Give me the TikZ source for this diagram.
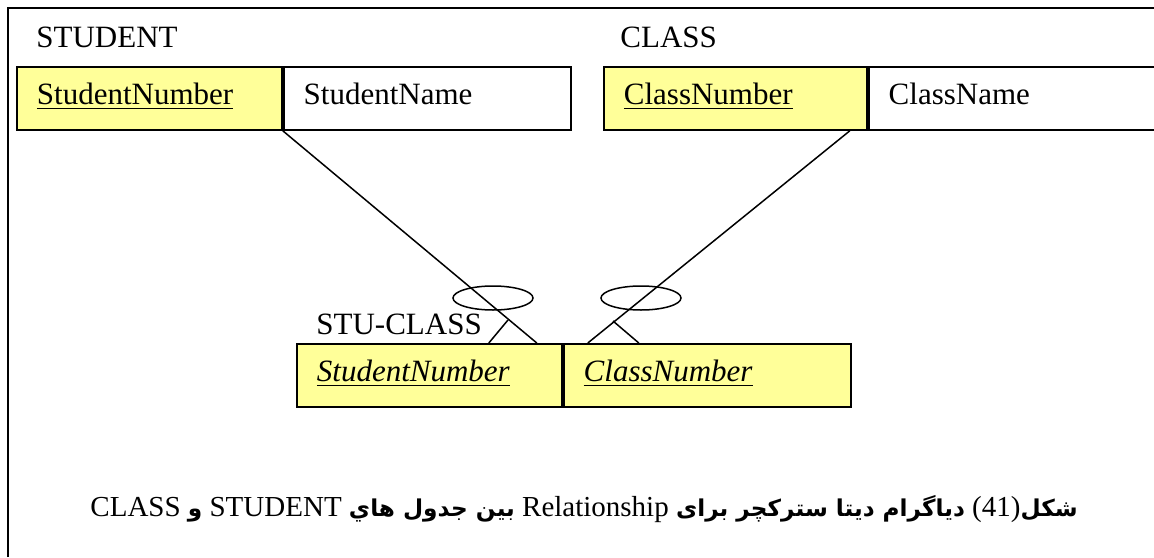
\documentclass[tikz,border=0pt]{standalone}
\usepackage{fontspec}
\setmainfont{Liberation Serif}
\newfontfamily\arabicfont[Script=Arabic,Scale=0.8]{DejaVu Sans}
\TeXXeTstate=1
\usepackage{tikz}
\usetikzlibrary{calc, positioning}

\definecolor{keyyellow}{HTML}{FFFF99}

\begin{document}
\begin{tikzpicture}[
            x=0.5pt, y=-0.5pt,
            font=\fontsize{15.5}{18}\selectfont,
            cell/.style={draw, line width=0.9pt, anchor=north west, align=left,
                inner xsep=10pt, inner ysep=0pt, text width=#1,
                text height=19pt, text depth=12.5pt},
            keycell/.style={cell=#1, fill=keyyellow},
            title/.style={anchor=base west, inner sep=0pt},
            link/.style={line width=0.75pt},
            optional/.style={line width=0.75pt}
        ]
        \useasboundingbox (0,0) rectangle (1154,557);

        % Frame
        \draw[line width=1pt] (8,557) -- (8,8) -- (1154,8);

        % Define tables
        \node[title] (stutitle) at (36,47) {STUDENT};
        \node[keycell=112.5pt] (snum) at (16,66) {\underline{StudentNumber}};
        \node[cell=123.5pt] (sname) at (snum.north east) {StudentName};

        \node[title] (classtitle) at (620,47) {CLASS};
        \node[keycell=111.5pt] (cnum) at (603,66) {\underline{ClassNumber}};
        \node[cell=123pt] (cname) at (cnum.north east) {ClassName};

        \node[title] (linktitle) at (316,334) {STU-CLASS};
        \node[keycell=112.5pt] (lsnum) at (296,343) {\underline{\itshape StudentNumber}};
        \node[keycell=123.5pt] (lcnum) at (lsnum.north east) {\underline{\itshape ClassNumber}};

        % Crow's feet ends
        \coordinate (cfoot) at ($(cnum.south east)+(-18,0)$);
        \coordinate (footA) at ($(lsnum.north east)+(-26,0)$);
        \coordinate (footB) at ($(lsnum.north east)+(-74,0)$);
        \coordinate (forkA) at (508,320);
        \coordinate (footC) at ($(lcnum.north west)+(25,0)$);
        \coordinate (footD) at ($(lcnum.north west)+(76,0)$);
        \coordinate (forkB) at (613,321);

        % Draw relationships
        \draw[link] (snum.south east) -- (footA);
        \draw[link] (footB) -- (forkA);
        \draw[link] (cfoot) -- (footC);
        \draw[link] (footD) -- (forkB);

        % Optional marks
        \draw[optional] (493,298) ellipse [x radius=20pt, y radius=6pt];
        \draw[optional] (641,298) ellipse [x radius=20pt, y radius=6pt];

        % Caption
        \node[anchor=base, inner sep=0pt, font=\fontsize{14.5}{17}\selectfont] (caption) at (584,516) {\beginR{\arabicfont\bfseries شکل}\beginL(41)\endL{} {\arabicfont\bfseries دیاگرام دیتا سترکچر برای} \beginL Relationship\endL{} {\arabicfont\bfseries بین جدول هاي} \beginL STUDENT\endL{} {\arabicfont\bfseries و} \beginL CLASS\endL\endR};
        \end{tikzpicture}
\end{document}
